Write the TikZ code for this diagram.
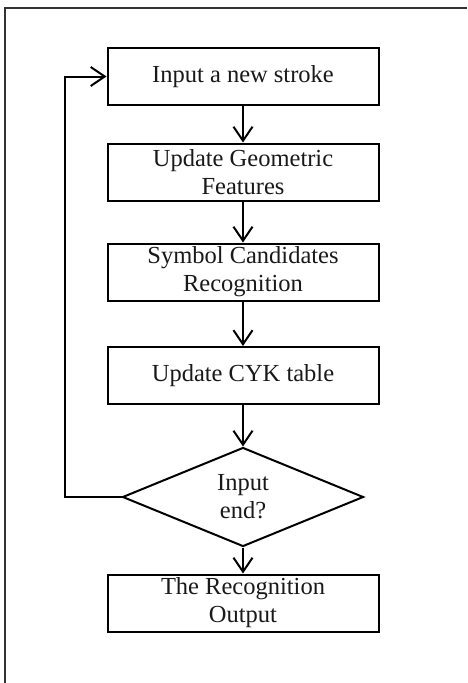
\documentclass[tikz,border=0pt]{standalone}
\usepackage{fontspec}
\setmainfont{Liberation Serif}
\usetikzlibrary{shapes.geometric,arrows.meta}
\begin{document}
\begin{tikzpicture}[x=1pt,y=-1pt,
  every node/.style={font=\fontsize{24.5}{28}\selectfont, text=black!90, align=center, inner sep=0pt},
  procbox/.style={draw, line width=2pt, minimum width=271pt, minimum height=57pt},
  decbox/.style={draw, diamond, line width=2pt, minimum width=241pt, minimum height=99pt, aspect=2.43},
  arr/.style={line width=2pt, -{Straight Barb[length=14pt,width=19pt,line width=2pt]}}]
\useasboundingbox (0,0) rectangle (467,683);
\draw[line width=1.5pt, black!80] (5,683) -- (5,8) -- (467,8);
\node[procbox] (b1) at (243,76.5) {Input a new stroke};
\node[procbox] (b2) at (243,172) {Update Geometric\\Features};
\node[procbox] (b3) at (243,272) {Symbol Candidates\\Recognition};
\node[procbox] (b4) at (243,375.5) {Update CYK table};
\node[decbox] (d) at (243,497) {Input\\end?};
\node[procbox] (b5) at (243,603) {The Recognition\\Output};
\coordinate (loop) at (65,497);
\draw[arr] (b1) -- (b2);
\draw[arr] (b2) -- (b3);
\draw[arr] (b3) -- (b4);
\draw[arr] (b4) -- (d);
\draw[arr] (d) -- (b5);
\draw[arr] (d.west) -- (loop) |- (b1.west);
\end{tikzpicture}
\end{document}
